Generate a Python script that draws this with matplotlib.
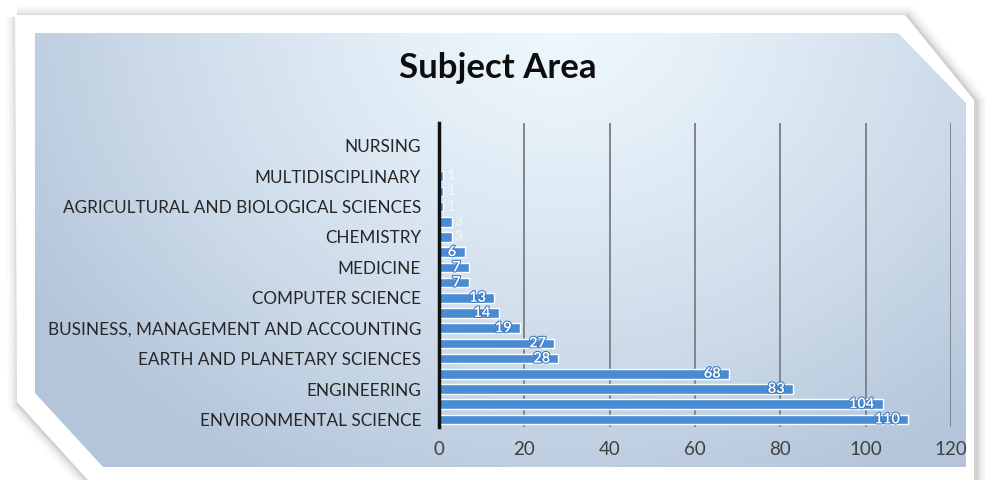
import matplotlib
matplotlib.use('Agg')
import matplotlib.pyplot as plt
import matplotlib.patheffects as pe
import numpy as np
from matplotlib.patches import Polygon

#
# DATA (bottom to top, every other category name is hidden in the source)
#

categories = ['ENVIRONMENTAL SCIENCE', '', 'ENGINEERING', '',
              'EARTH AND PLANETARY SCIENCES', '',
              'BUSINESS, MANAGEMENT AND ACCOUNTING', '',
              'COMPUTER SCIENCE', '', 'MEDICINE', '', 'CHEMISTRY', '',
              'AGRICULTURAL AND BIOLOGICAL SCIENCES', '',
              'MULTIDISCIPLINARY', '', 'NURSING', '']
counts = [110, 104, 83, 68, 28, 27, 19, 14, 13, 7, 7, 6, 3, 3, 1, 1, 1, 0, 0, 0]
x_ticks = [0, 20, 40, 60, 80, 100, 120]

TITLE = 'Subject Area'
FONT = 'Lato'

W, H = 985, 480

fig = plt.figure(figsize=(W / 100, H / 100), dpi=100)
fig.patch.set_facecolor('white')

#
# Background frame (pixel coordinates)
#

bg = fig.add_axes([0, 0, 1, 1])
bg.axis('off')

outer = [(15, 15), (905, 15), (974, 100), (974, 490), (97, 490), (17, 402)]
inner = [(35, 33), (898, 33), (966, 103), (966, 467), (103, 467), (35, 393)]

# soft shadow round the white panel, a bit offset to the right/down
for lw, a in [(16, 0.025), (12, 0.035), (8, 0.05), (5, 0.06), (3, 0.07)]:
    shp = [(x + 2, y + 2) for x, y in outer]
    bg.add_patch(Polygon(shp, closed=True, fc='none', ec='#303030', lw=lw,
                         alpha=a, joinstyle='miter', zorder=1))
bg.add_patch(Polygon(outer, closed=True, fc='white', ec='none', zorder=2))

# gradient fill
yy, xx = np.mgrid[0:H, 0:W]
d = np.sqrt(((xx - 560) / 620.0) ** 2 + ((yy - 20) / 520.0) ** 2)
d = np.clip(d, 0, 1) ** 1.3
light = np.array([237, 247, 253]) / 255.0
dark = np.array([180, 197, 218]) / 255.0
img = light[None, None, :] * (1 - d[..., None]) + dark[None, None, :] * d[..., None]
im = bg.imshow(img, extent=(0, W, H, 0), zorder=3, interpolation='bilinear')
clip = Polygon(inner, closed=True, fc='none', ec='none', transform=bg.transData)
bg.add_patch(clip)
im.set_clip_path(clip)
bg.set_xlim(0, W)
bg.set_ylim(H, 0)

fig.text(498 / W, 1 - 68 / H, TITLE, ha='center', va='center',
         fontsize=25, fontweight='bold', family=FONT, color='#0d0d0d')

#
# Bar chart
#

ax = fig.add_axes([439 / W, 1 - 427 / H, (951 - 439) / W, (427 - 123) / H])
ax.set_facecolor('none')

ypos = np.arange(len(counts))
ax.barh(ypos, counts, height=0.62, color='#4a8cd4', edgecolor='white', linewidth=1.0, zorder=3)

for y, v in zip(ypos, counts):
    if v <= 0:
        continue
    if v >= 5:
        ax.annotate(str(v), (v, y), xytext=(-6, 0), textcoords='offset points',
                    ha='right', va='center', fontsize=10.5, fontweight='bold', family=FONT,
                    color='white', zorder=4,
                    path_effects=[pe.withStroke(linewidth=1.5, foreground='#3a78c0')])
    else:
        # too short: label ends up white on the light background, as in the source
        ax.annotate(str(v), (v, y), xytext=(2, 0), textcoords='offset points',
                    ha='left', va='center', fontsize=10.5, fontweight='bold', family=FONT,
                    color='white', alpha=0.5, zorder=4)

ax.set_xlim(0, 120)
ax.set_ylim(-0.5, len(counts) - 0.5)
ax.set_xticks(x_ticks)
ax.set_yticks(ypos)
ax.set_yticklabels(categories)
ax.xaxis.grid(True, color='#7f858c', linewidth=1.4, zorder=0)
ax.set_axisbelow(True)

for s in ['top', 'right', 'bottom']:
    ax.spines[s].set_visible(False)
ax.spines['left'].set_linewidth(2.5)
ax.spines['left'].set_color('#111111')
ax.spines['left'].set_zorder(5)

ax.tick_params(axis='y', length=0, pad=13, labelsize=12.3, labelcolor='#262626')
ax.tick_params(axis='x', length=0, pad=10, labelsize=13.5, labelcolor='#404040')
for lab in ax.get_xticklabels() + ax.get_yticklabels():
    lab.set_family(FONT)

fig.savefig('out.png', dpi=100)
